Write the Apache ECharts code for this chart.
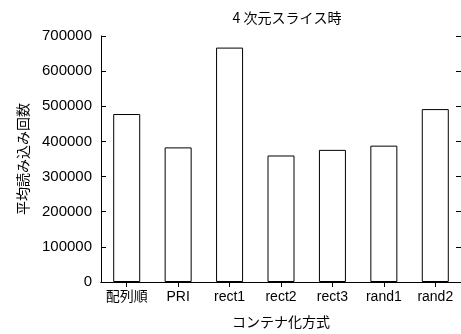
<!DOCTYPE html>
<html><head><meta charset="utf-8">
<script src="https://cdn.jsdelivr.net/npm/echarts@6/dist/echarts.min.js"></script>
<style>html,body{margin:0;padding:0;background:#fff}#c{width:461px;height:334px}</style>
</head><body><div id="c"></div>
<script>
const categories = ['配列順','PRI','rect1','rect2','rect3','rand1','rand2'];
const values = [478000, 383000, 667000, 360000, 376000, 388000, 492000];
const yTicks = [0,100000,200000,300000,400000,500000,600000,700000];

const chart = echarts.init(document.getElementById('c'), null, {renderer:'canvas'});
const font = 'Liberation Sans, Noto Sans CJK JP, sans-serif';
const jp = 'Noto Sans CJK JP, sans-serif';
const line = {show:true, lineStyle:{color:'#000', width:1}};
chart.setOption({
  animation:false,
  backgroundColor:'#fff',
  title:{text:'4 次元スライス時', left:282, textAlign:'center', top:6,
    textStyle:{fontFamily:jp, fontSize:14, fontWeight:'normal', color:'#000'}},
  grid:{left:101, right:-3, top:36, bottom:51},
  xAxis:[{
    type:'category', data:categories, position:'bottom',
    name:'コンテナ化方式', nameLocation:'middle', nameGap:33,
    nameTextStyle:{fontFamily:jp, fontSize:14, color:'#000'},
    axisLine:line,
    axisTick:{show:true, inside:true, alignWithLabel:true, length:4, lineStyle:{color:'#000'}},
    axisLabel:{fontFamily:font, fontSize:14, color:'#000', margin:8, interval:0}
  },{
    type:'category', data:categories, position:'top',
    axisLine:line,
    axisTick:{show:true, inside:true, alignWithLabel:true, length:5, lineStyle:{color:'#000'}},
    axisLabel:{show:false}
  }],
  yAxis:[{
    type:'value', min:0, max:700000, interval:100000, position:'left',
    name:'平均読み込み回数', nameLocation:'middle', nameGap:71,
    nameTextStyle:{fontFamily:jp, fontSize:14, color:'#000'},
    axisLine:line,
    axisTick:{show:true, inside:true, length:5, lineStyle:{color:'#000'}},
    axisLabel:{fontFamily:font, fontSize:15, color:'#000', margin:9, formatter:v=>String(v)},
    splitLine:{show:false}
  },{
    type:'value', min:0, max:700000, interval:100000, position:'right',
    axisLine:line,
    axisTick:{show:true, inside:true, length:5, lineStyle:{color:'#000'}},
    axisLabel:{show:false}, splitLine:{show:false}
  }],
  series:[{
    type:'bar', data:values, barWidth:27, xAxisIndex:0, yAxisIndex:0,
    itemStyle:{color:'#fff', borderColor:'#000', borderWidth:1}
  }]
});
</script></body></html>
